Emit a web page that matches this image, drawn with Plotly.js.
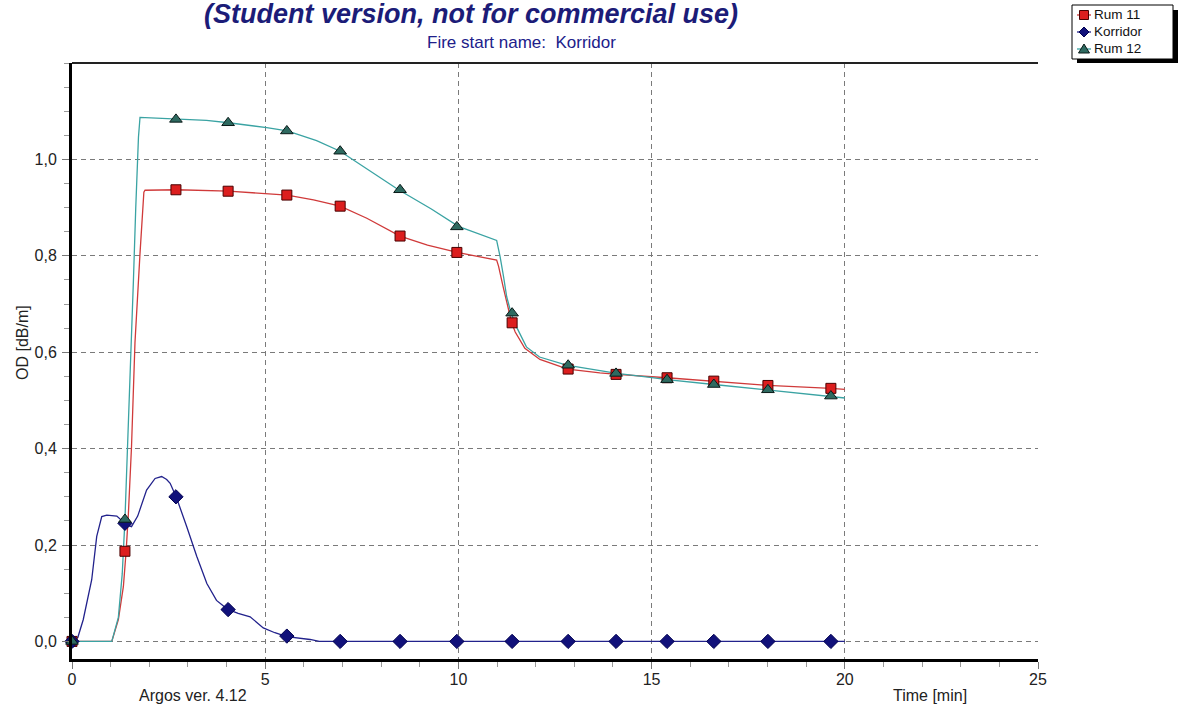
<!DOCTYPE html>
<html>
<head>
<meta charset="utf-8">
<script src="https://cdn.plot.ly/plotly-3.0.1.min.js"></script>
<style>html,body{margin:0;padding:0;background:#fff;}#chart{width:1182px;height:719px;}</style>
</head>
<body>
<div id="chart"></div>
<script>
// ---- data (time in minutes, OD in dB/m) ----
var seriesNames = ["Rum 11", "Korridor", "Rum 12"];

// dense curves
var rum11T = [0, 1.03, 1.2, 1.33, 1.40, 1.46, 1.54, 1.63, 1.76, 1.86, 1.89, 2.72, 4.05, 5.04, 5.57, 6.25, 6.94, 7.63, 8.49, 9.2, 9.97, 10.99, 11.04, 11.16, 11.38, 11.47, 11.72, 12.11, 12.83, 13.66, 14.11, 15.4, 16.61, 18.01, 19.64, 20];
var rum11V = [0, 0, 0.045, 0.114, 0.186, 0.266, 0.404, 0.62, 0.805, 0.932, 0.936, 0.937, 0.934, 0.928, 0.926, 0.916, 0.903, 0.878, 0.841, 0.822, 0.807, 0.791, 0.778, 0.735, 0.661, 0.642, 0.608, 0.585, 0.565, 0.557, 0.554, 0.547, 0.540, 0.531, 0.525, 0.523];

var korT = [0, 0.15, 0.29, 0.4, 0.51, 0.64, 0.77, 0.9, 1.16, 1.3, 1.4, 1.54, 1.7, 1.93, 2.15, 2.32, 2.45, 2.54, 2.70, 2.97, 3.23, 3.49, 3.74, 4.02, 4.3, 4.61, 4.95, 5.25, 5.56, 6.16, 6.4, 20];
var korV = [0, 0.008, 0.045, 0.085, 0.128, 0.218, 0.259, 0.262, 0.260, 0.25, 0.242, 0.238, 0.26, 0.314, 0.338, 0.342, 0.336, 0.328, 0.299, 0.238, 0.176, 0.120, 0.085, 0.067, 0.058, 0.051, 0.028, 0.018, 0.010, 0.004, 0, 0];

var rum12T = [0, 1.03, 1.2, 1.3, 1.37, 1.45, 1.52, 1.59, 1.65, 1.72, 1.76, 2.71, 3.48, 4.05, 5.04, 5.57, 6.33, 6.94, 7.63, 8.45, 9.3, 10.0, 10.99, 11.08, 11.17, 11.25, 11.36, 11.5, 11.76, 12.1, 12.8, 14.1, 14.96, 15.4, 16.61, 18.01, 19.64, 20];
var rum12V = [0, 0, 0.05, 0.14, 0.252, 0.42, 0.6, 0.75, 0.9, 1.046, 1.087, 1.083, 1.081, 1.076, 1.066, 1.059, 1.039, 1.017, 0.981, 0.937, 0.897, 0.861, 0.832, 0.798, 0.756, 0.715, 0.682, 0.653, 0.611, 0.590, 0.573, 0.556, 0.548, 0.543, 0.533, 0.522, 0.509, 0.505];

// marker positions
var markT = [0, 1.37, 2.69, 4.04, 5.56, 6.94, 8.49, 9.96, 11.39, 12.84, 14.08, 15.40, 16.61, 18.01, 19.64];
var rum11M = [0, 0.187, 0.937, 0.934, 0.926, 0.903, 0.841, 0.807, 0.661, 0.565, 0.554, 0.547, 0.540, 0.531, 0.525];
var korM   = [0, 0.245, 0.300, 0.066, 0.011, 0, 0, 0, 0, 0, 0, 0, 0, 0, 0];
var rum12M = [0, 0.253, 1.083, 1.076, 1.059, 1.017, 0.937, 0.860, 0.681, 0.573, 0.556, 0.543, 0.533, 0.522, 0.509];

var xTicks = [0, 5, 10, 15, 20, 25];
var yTicks = [0, 0.2, 0.4, 0.6, 0.8, 1.0];

// ---- styles ----
var lineCols = ["#d03a3a", "#22228c", "#3aa3a3"];
var fillCols = ["#dc1e1e", "#11117a", "#2e6a60"];
var edgeCols = ["#4a0000", "#000050", "#0a1a18"];
var mk = [
  {symbol: "square", size: 10, color: fillCols[0], line: {color: edgeCols[0], width: 1}},
  {symbol: "diamond", size: 11, color: fillCols[1], line: {color: edgeCols[1], width: 1}},
  {symbol: "triangle-up", size: 11, color: fillCols[2], line: {color: edgeCols[2], width: 1}}
];
var curvesT = [rum11T, korT, rum12T];
var curvesV = [rum11V, korV, rum12V];
var marksV = [rum11M, korM, rum12M];

var traces = [];
for (var i = 0; i < 3; i++) {
  traces.push({x: curvesT[i], y: curvesV[i], mode: "lines", name: seriesNames[i], line: {color: lineCols[i], width: 1.3}, showlegend: false, hoverinfo: "skip"});
}
for (var i = 0; i < 3; i++) {
  traces.push({x: markT, y: marksV[i], mode: "markers", name: seriesNames[i], marker: mk[i], showlegend: false, cliponaxis: false});
}

var W = 1182, H = 719, L = 72, R = 144, T = 63, B = 60;
var pw = W - L - R, ph = H - T - B;
function px(x) { return (x - L) / pw; }
function py(y) { return (H - B - y) / ph; }

var font = "Arial, 'Liberation Sans', sans-serif";

// ---- hand-built legend box (top right) ----
var shapes = [
  {type: "line", xref: "paper", yref: "paper", x0: 0, x1: 1, y0: 1, y1: 1, line: {color: "#222", width: 2}},
  {type: "rect", xref: "paper", yref: "paper", x0: px(1077), x1: px(1178), y0: py(10), y1: py(63), fillcolor: "#000", line: {width: 0}},
  {type: "rect", xref: "paper", yref: "paper", x0: px(1072), x1: px(1173), y0: py(5), y1: py(59), fillcolor: "#fff", line: {color: "#000", width: 1}}
];
var legY = [15, 32, 49];
var annotations = [];
for (var i = 0; i < 3; i++) {
  var cy = legY[i];
  shapes.push({type: "line", xref: "paper", yref: "paper", x0: px(1077), x1: px(1091), y0: py(cy), y1: py(cy), line: {color: lineCols[i], width: 1.3}});
  var path;
  if (i === 0) path = "M" + px(1079.5) + "," + py(cy - 4.5) + " L" + px(1088.5) + "," + py(cy - 4.5) + " L" + px(1088.5) + "," + py(cy + 4.5) + " L" + px(1079.5) + "," + py(cy + 4.5) + " Z";
  else if (i === 1) path = "M" + px(1084) + "," + py(cy - 5) + " L" + px(1089) + "," + py(cy) + " L" + px(1084) + "," + py(cy + 5) + " L" + px(1079) + "," + py(cy) + " Z";
  else path = "M" + px(1084) + "," + py(cy - 5) + " L" + px(1089.5) + "," + py(cy + 4) + " L" + px(1078.5) + "," + py(cy + 4) + " Z";
  shapes.push({type: "path", xref: "paper", yref: "paper", path: path, fillcolor: fillCols[i], line: {color: edgeCols[i], width: 1}});
  annotations.push({text: seriesNames[i], xref: "paper", yref: "paper", x: px(1093), y: py(cy - 1), xanchor: "left", yanchor: "middle", showarrow: false, borderpad: 0, font: {family: font, size: 13.5, color: "#111"}});
}

annotations.push(
  {text: "<b><i>(Student version, not for commercial use)</i></b>", xref: "paper", yref: "paper", x: px(471), y: py(14), xanchor: "center", yanchor: "middle", showarrow: false, font: {family: font, size: 27, color: "#1c1c78"}},
  {text: "Fire start name:\u00a0 Korridor", xref: "paper", yref: "paper", x: px(521), y: py(43), xanchor: "center", yanchor: "middle", showarrow: false, font: {family: font, size: 17, color: "#20208a"}},
  {text: "Argos ver. 4.12", xref: "paper", yref: "paper", x: px(193), y: py(695), xanchor: "center", yanchor: "middle", showarrow: false, font: {family: font, size: 16, color: "#222"}},
  {text: "Time [min]", xref: "paper", yref: "paper", x: px(930), y: py(695), xanchor: "center", yanchor: "middle", showarrow: false, font: {family: font, size: 16, color: "#222"}},
  {text: "OD [dB/m]", xref: "paper", yref: "paper", x: px(22), y: py(343), xanchor: "center", yanchor: "middle", textangle: -90, showarrow: false, font: {family: font, size: 16, color: "#222"}}
);

var layout = {
  width: W, height: H,
  margin: {l: L, r: R, t: T, b: B},
  paper_bgcolor: "#fff", plot_bgcolor: "#fff",
  separators: ",.",
  font: {family: font, size: 16, color: "#222"},
  showlegend: false,
  xaxis: {
    range: [0, 25], tickvals: xTicks, ticktext: xTicks.map(String),
    showgrid: true, gridcolor: "#7a7a7a", griddash: "5px,4px", gridwidth: 1,
    zeroline: false, showline: true, linecolor: "#000", linewidth: 3,
    ticks: "outside", ticklen: 7, tickcolor: "#777", tickwidth: 1, ticklabelstandoff: -3,
    minor: {dtick: 1, tick0: 0, ticks: "outside", ticklen: 5, tickcolor: "#999", showgrid: false},
    tickfont: {family: font, size: 16, color: "#222"}
  },
  yaxis: {
    range: [-0.0365, 1.2], tickvals: yTicks, tickformat: ".1f",
    showgrid: true, gridcolor: "#7a7a7a", griddash: "5px,4px", gridwidth: 1,
    zeroline: false, showline: true, linecolor: "#000", linewidth: 3,
    ticks: "outside", ticklen: 7, tickcolor: "#777", tickwidth: 1, ticklabelstandoff: 2,
    minor: {dtick: 0.05, tick0: 0, ticks: "outside", ticklen: 5, tickcolor: "#999", showgrid: false},
    tickfont: {family: font, size: 16, color: "#222"}
  },
  shapes: shapes,
  annotations: annotations
};

Plotly.newPlot("chart", traces, layout, {displayModeBar: false, staticPlot: true});
</script>
</body>
</html>
